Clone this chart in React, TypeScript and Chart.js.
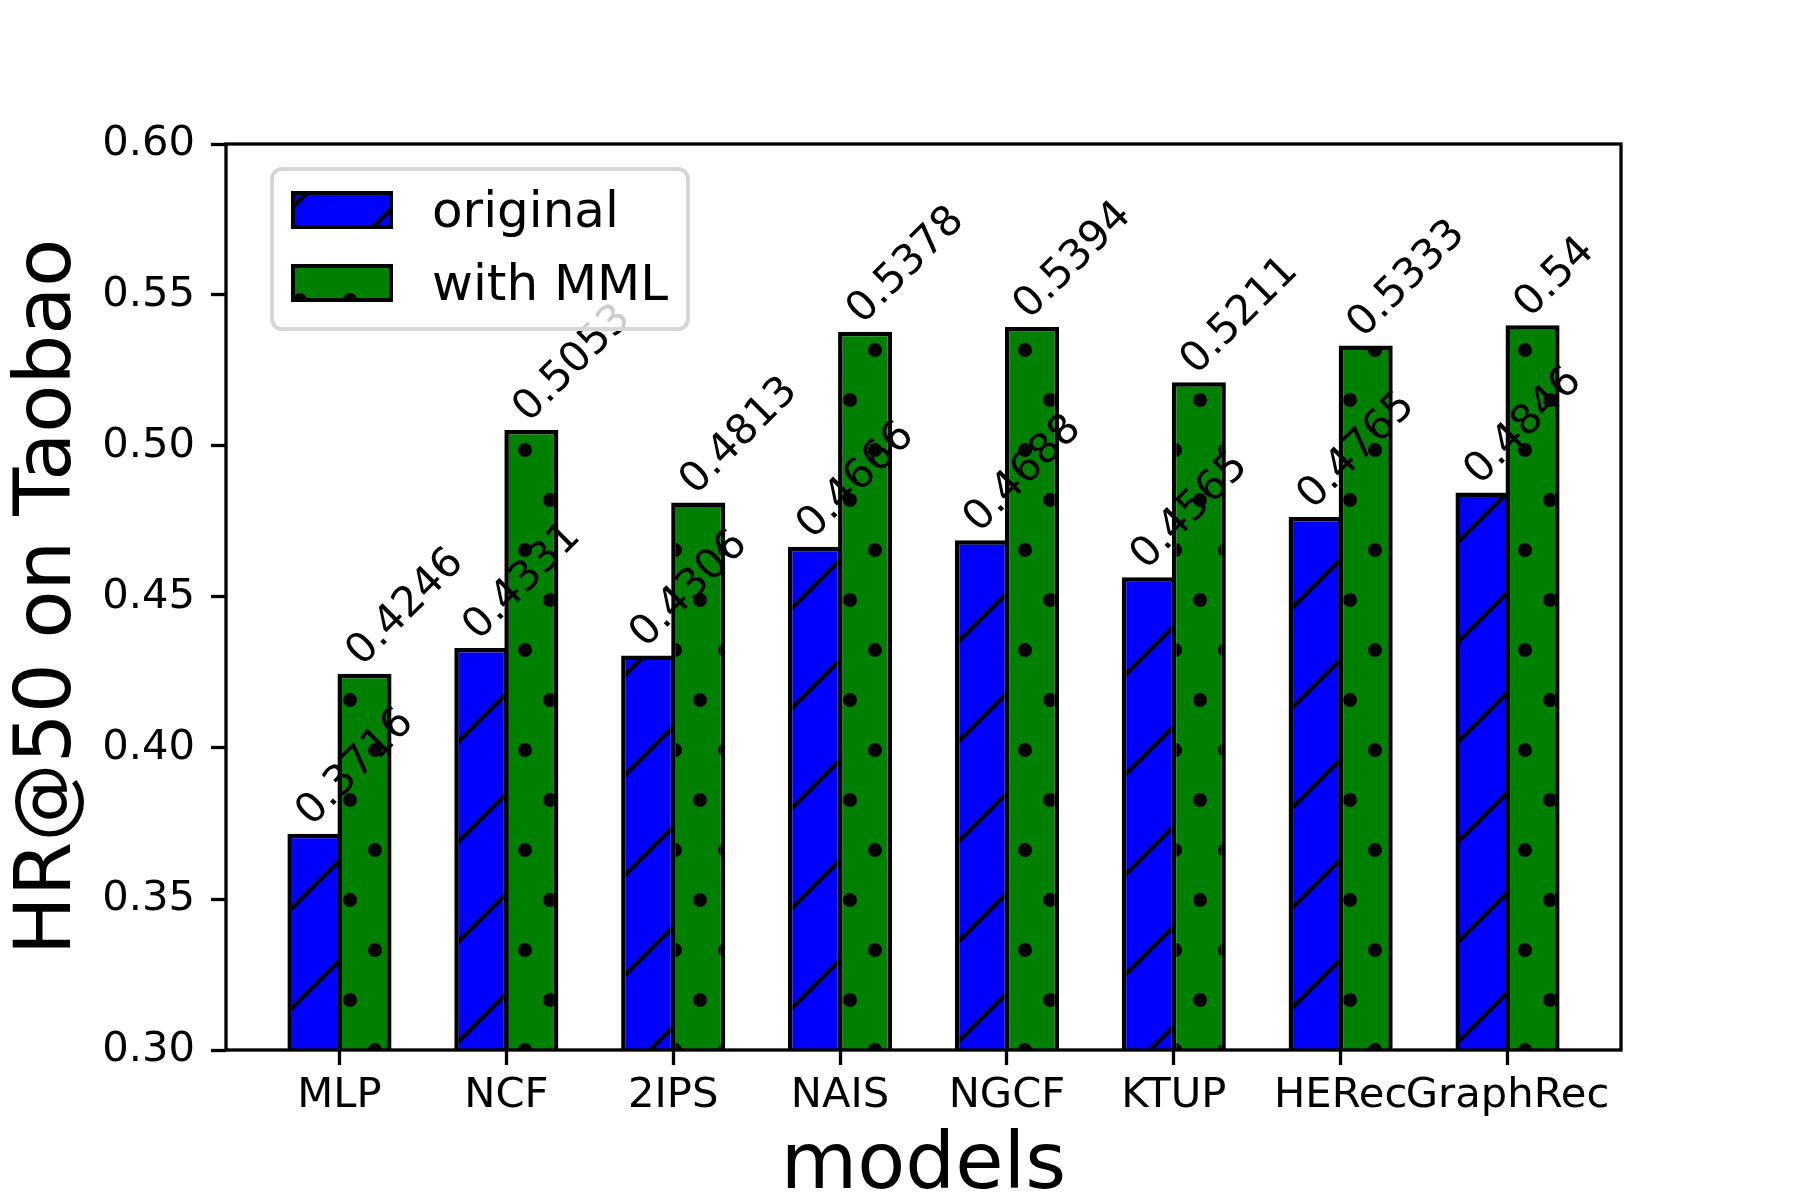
import { useEffect, useRef } from "react";
import { Chart, registerables } from "chart.js";

Chart.register(...registerables);

// データ
const models = ["MLP", "NCF", "2IPS", "NAIS", "NGCF", "KTUP", "HERec", "GraphRec"];
const original = [0.3716, 0.4331, 0.4306, 0.4666, 0.4688, 0.4565, 0.4765, 0.4846];
const withMML = [0.4246, 0.5053, 0.4813, 0.5378, 0.5394, 0.5211, 0.5333, 0.54];
const seriesNames = ["original", "with MML"];
const yTicks = [0.3, 0.35, 0.4, 0.45, 0.5, 0.55, 0.6];

const FONT = "'DejaVu Sans', sans-serif";
const W = 1800;
const H = 1200;
// matplotlib の edge は境界中心に描かれるので少し太らせる
const BAR_PCT = 1.08;

function hatchLines(bg: string) {
  const tile = document.createElement("canvas");
  tile.width = 100;
  tile.height = 100;
  const c = tile.getContext("2d")!;
  c.fillStyle = bg;
  c.fillRect(0, 0, 100, 100);
  c.strokeStyle = "#000";
  c.lineWidth = 4.2;
  c.beginPath();
  for (const k of [0, 100, 200]) {
    c.moveTo(k + 20, -20);
    c.lineTo(k - 120, 120);
  }
  c.stroke();
  return c.createPattern(tile, "repeat")!;
}

function hatchDots(bg: string) {
  const tile = document.createElement("canvas");
  tile.width = 100;
  tile.height = 100;
  const c = tile.getContext("2d")!;
  c.fillStyle = bg;
  c.fillRect(0, 0, 100, 100);
  c.fillStyle = "#000";
  const pts = [
    [0, 0], [50, 0], [100, 0],
    [25, 50], [75, 50],
    [0, 100], [50, 100], [100, 100],
  ];
  for (const [x, y] of pts) {
    c.beginPath();
    c.arc(x, y, 7, 0, Math.PI * 2);
    c.fill();
  }
  return c.createPattern(tile, "repeat")!;
}

// 枠線と棒の上の数値（45度回転）
const framePlugin = {
  id: "frameAndValues",
  afterDatasetsDraw(chart: any) {
    const { ctx, chartArea: a } = chart;
    ctx.save();
    ctx.strokeStyle = "#000";
    ctx.lineWidth = 3.3;
    ctx.strokeRect(a.left, a.top, a.right - a.left, a.bottom - a.top);

    const size = 41.7;
    const asc = 0.76 * size;
    const desc = 0.23 * size;
    const r = Math.SQRT1_2;
    ctx.fillStyle = "#000";
    ctx.font = `${size}px ${FONT}`;
    ctx.textAlign = "left";
    ctx.textBaseline = "alphabetic";
    chart.data.datasets.forEach((ds: any, di: number) => {
      const meta = chart.getDatasetMeta(di);
      meta.data.forEach((bar: any, i: number) => {
        const { x, y, width } = bar.getProps(["x", "y", "width"], true);
        const left = x - width / (2 * BAR_PCT);
        ctx.save();
        ctx.translate(left + r * asc, y - r * desc);
        ctx.rotate(-Math.PI / 4);
        ctx.fillText(String(ds.data[i].y), 0, 0);
        ctx.restore();
      });
    });
    ctx.restore();
  },
};

const legendPlugin = {
  id: "boxLegend",
  afterDraw(chart: any) {
    const { ctx, chartArea: a } = chart;
    const x0 = a.left + 46;
    const y0 = a.top + 25;
    ctx.save();
    ctx.beginPath();
    ctx.roundRect(x0, y0, 416, 160, 10);
    ctx.fillStyle = "rgba(255,255,255,0.8)";
    ctx.fill();
    ctx.strokeStyle = "#d6d6d6";
    ctx.lineWidth = 4;
    ctx.stroke();
    ctx.font = `50px ${FONT}`;
    ctx.textAlign = "left";
    ctx.textBaseline = "alphabetic";
    chart.data.datasets.forEach((ds: any, i: number) => {
      const hx = a.left + 67;
      const hy = a.top + 49 + i * 73;
      ctx.fillStyle = ds.backgroundColor;
      ctx.fillRect(hx, hy, 98, 34);
      ctx.strokeStyle = "#000";
      ctx.lineWidth = 4;
      ctx.strokeRect(hx, hy, 98, 34);
      ctx.fillStyle = "#000";
      ctx.fillText(ds.label, a.left + 206, hy + 34);
    });
    ctx.restore();
  },
};

export default function App() {
  const ref = useRef<HTMLCanvasElement>(null);

  useEffect(() => {
    if (!ref.current) return;
    const canvas = ref.current;
    canvas.width = W;
    canvas.height = H;

    const tickFont = { family: FONT, size: 41.7 };
    const titleFont = { family: FONT, size: 78.5, lineHeight: 0.8 };
    const gridOpts = {
      display: true,
      drawOnChartArea: false,
      drawTicks: true,
      tickLength: 15,
      tickWidth: 3.3,
      tickColor: "#000",
      offset: false,
    };
    const barCommon = {
      borderColor: "#000",
      borderWidth: 4.5,
      borderSkipped: false,
      categoryPercentage: 0.6,
      barPercentage: BAR_PCT,
      clip: { left: 0, top: 10, right: 0, bottom: 0 },
    };

    const chart = new Chart(canvas, {
      type: "bar",
      data: {
        datasets: [
          {
            ...barCommon,
            label: seriesNames[0],
            data: models.map((_, i) => ({ x: i, y: original[i] })),
            backgroundColor: hatchLines("#0000ff"),
          },
          {
            ...barCommon,
            label: seriesNames[1],
            data: models.map((_, i) => ({ x: i, y: withMML[i] })),
            backgroundColor: hatchDots("#008000"),
          },
        ],
      } as any,
      options: {
        animation: false,
        responsive: false,
        devicePixelRatio: 1,
        layout: { padding: { left: 0, top: 144, right: 179, bottom: 0 } },
        plugins: {
          legend: { display: false },
          tooltip: { enabled: false },
        },
        scales: {
          x: {
            type: "linear",
            min: -0.68,
            max: 7.68,
            offset: false,
            afterBuildTicks: (s: any) => {
              s.ticks = models.map((_, i) => ({ value: i }));
            },
            afterFit: (s: any) => {
              s.height = 150;
            },
            grid: gridOpts,
            border: { display: false },
            ticks: {
              autoSkip: false,
              maxRotation: 0,
              minRotation: 0,
              padding: 6,
              color: "#000",
              font: tickFont,
              callback: (v: number | string) => models[Number(v)] ?? "",
            },
            title: {
              display: true,
              text: "models",
              color: "#000",
              font: titleFont,
              padding: { top: 0, bottom: 1 },
            },
          },
          y: {
            type: "linear",
            min: 0.3,
            max: 0.6,
            afterBuildTicks: (s: any) => {
              s.ticks = yTicks.map((v) => ({ value: v }));
            },
            afterFit: (s: any) => {
              s.width = 226;
            },
            grid: gridOpts,
            border: { display: false },
            ticks: {
              padding: 16,
              color: "#000",
              font: tickFont,
              callback: (v: number | string) => Number(v).toFixed(2),
            },
            title: {
              display: true,
              text: "HR@50 on Taobao",
              color: "#000",
              font: titleFont,
              padding: { top: 18, bottom: 0 },
            },
          },
        },
      } as any,
      plugins: [framePlugin, legendPlugin],
    });

    return () => {
      chart.destroy();
    };
  }, []);

  return (
    <div
      style={{
        position: "absolute",
        left: 0,
        top: 0,
        width: W,
        height: H,
        background: "#fff",
      }}
    >
      <canvas
        ref={ref}
        role="img"
        aria-label="HR@50 on Taobao bar chart"
        style={{ display: "block", width: W, height: H }}
      />
    </div>
  );
}
